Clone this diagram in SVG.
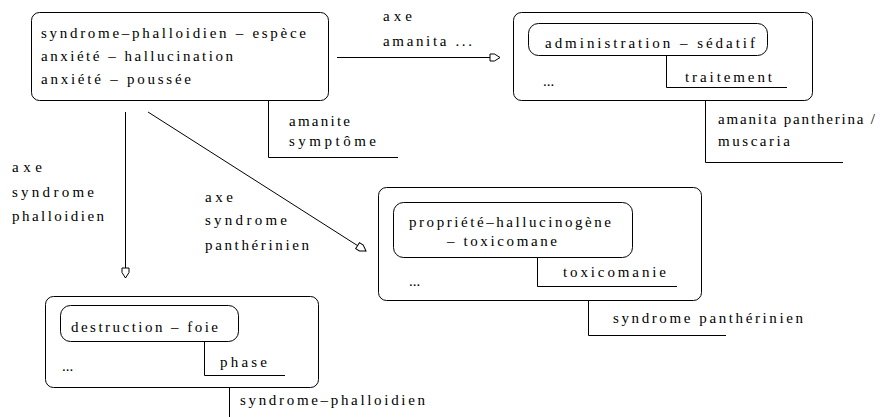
<svg xmlns="http://www.w3.org/2000/svg" width="888" height="417" viewBox="0 0 888 417">
<style>
text{font-family:'Liberation Serif','Times New Roman',serif;font-size:15px;fill:#000}
.box{fill:none;stroke:#000;stroke-width:1}
.ln{fill:none;stroke:#000;stroke-width:1}
</style>
<defs>
<marker id="arr" markerUnits="userSpaceOnUse" markerWidth="14" markerHeight="12" refX="10" refY="4" orient="auto" viewBox="-1 0 14 8">
<path d="M0,0.5 L4.5,0.5 L10,4 L4.5,7.5 L0,7.5 Z" fill="#fff" stroke="#000" stroke-width="1"/>
</marker>
</defs>
<rect width="888" height="417" fill="#fff"/>
<g id="connectors">
<path class="ln" d="M337,57.5 H500" marker-end="url(#arr)"/>
<path class="ln" d="M125.5,112 V278" marker-end="url(#arr)"/>
<path class="ln" d="M148,112 L366,251" marker-end="url(#arr)"/>
<text x="383" y="21" textLength="29" lengthAdjust="spacing">axe</text>
<text x="383" y="46" textLength="89" lengthAdjust="spacing">amanita ...</text>
<text x="12" y="172" textLength="30" lengthAdjust="spacing">axe</text>
<text x="12" y="197" textLength="82" lengthAdjust="spacing">syndrome</text>
<text x="12" y="221" textLength="92" lengthAdjust="spacing">phalloidien</text>
<text x="205" y="202" textLength="28" lengthAdjust="spacing">axe</text>
<text x="205" y="225" textLength="82" lengthAdjust="spacing">syndrome</text>
<text x="205" y="250" textLength="104" lengthAdjust="spacing">panthérinien</text>
</g>
<g id="node-top-left">
<rect class="box" x="31.5" y="12.5" width="297" height="88" rx="8"/>
<text x="41" y="38" textLength="265" lengthAdjust="spacing">syndrome–phalloidien – espèce</text>
<text x="41" y="61" textLength="192" lengthAdjust="spacing">anxiété – hallucination</text>
<text x="41" y="84" textLength="150" lengthAdjust="spacing">anxiété – poussée</text>
<path class="ln" d="M268.5,100 V157.5 H398"/>
<text x="289" y="126" textLength="61" lengthAdjust="spacing">amanite</text>
<text x="289" y="146" textLength="87" lengthAdjust="spacing">symptôme</text>
</g>
<g id="node-top-right">
<rect class="box" x="513.5" y="12.5" width="299" height="88" rx="8"/>
<rect class="box" x="528.5" y="23.5" width="239" height="32" rx="10"/>
<text x="545" y="48" textLength="210" lengthAdjust="spacing">administration – sédatif</text>
<path class="ln" d="M666.5,55 V87.5 H787"/>
<text x="685" y="82" textLength="87" lengthAdjust="spacing">traitement</text>
<text x="543" y="86">...</text>
<path class="ln" d="M705.5,100 V162.5 H843"/>
<text x="718" y="124" textLength="157" lengthAdjust="spacing">amanita pantherina /</text>
<text x="718" y="146" textLength="72" lengthAdjust="spacing">muscaria</text>
</g>
<g id="node-middle">
<rect class="box" x="378.5" y="187.5" width="323" height="113" rx="8"/>
<rect class="box" x="393.5" y="202.5" width="239" height="55" rx="10"/>
<text x="409" y="227" textLength="202" lengthAdjust="spacing">propriété–hallucinogène</text>
<text x="447" y="246" textLength="110" lengthAdjust="spacing">– toxicomane</text>
<path class="ln" d="M537.5,257 V286.5 H677"/>
<text x="563" y="277" textLength="103" lengthAdjust="spacing">toxicomanie</text>
<text x="409" y="286">...</text>
<path class="ln" d="M588.5,300 V335.5 H726"/>
<text x="613" y="323" textLength="190" lengthAdjust="spacing">syndrome panthérinien</text>
</g>
<g id="node-bottom">
<rect class="box" x="45.5" y="296.5" width="273" height="91" rx="8"/>
<rect class="box" x="60.5" y="305.5" width="178" height="36" rx="10"/>
<text x="71" y="332" textLength="147" lengthAdjust="spacing">destruction – foie</text>
<path class="ln" d="M204.5,341 V375.5 H285"/>
<text x="220" y="367" textLength="47" lengthAdjust="spacing">phase</text>
<text x="62" y="371">...</text>
<path class="ln" d="M229.5,387 V417"/>
<text x="240" y="405" textLength="185" lengthAdjust="spacing">syndrome–phalloidien</text>
</g>
</svg>
